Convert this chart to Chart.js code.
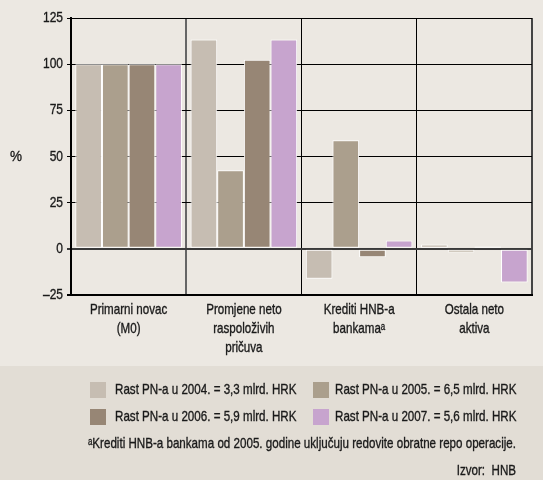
<!DOCTYPE html>
<html>
<head>
<meta charset="utf-8">
<script src="https://cdn.jsdelivr.net/npm/chart.js@4.4.1/dist/chart.umd.min.js"></script>
<style>
  body { margin: 0; background: #ece8e2; }
  #wrap { width: 543px; height: 480px; position: relative; }
</style>
</head>
<body>
<div id="wrap"><canvas id="myChart"></canvas></div>
<script>
// data
const categories = [
  ['Primarni novac', '(M0)'],
  ['Promjene neto', 'raspoloživih', 'pričuva'],
  ['Krediti HNB-a', 'bankamaᵃ'],
  ['Ostala neto', 'aktiva']
];
const seriesNames = [
  'Rast PN-a u 2004. = 3,3 mlrd. HRK',
  'Rast PN-a u 2005. = 6,5 mlrd. HRK',
  'Rast PN-a u 2006. = 5,9 mlrd. HRK',
  'Rast PN-a u 2007. = 5,6 mlrd. HRK'
];
const rast2004 = [100, 113.3, -16.2, 2.3];
const rast2005 = [100, 42.5, 58.8, -2.0];
const rast2006 = [100, 102.4, -4.5, 1.2];
const rast2007 = [100, 113.3, 4.5, -18.2];
const yTicks = [-25, 0, 25, 50, 75, 100, 125];
const footnote = 'ᵃKrediti HNB-a bankama od 2005. godine uključuju redovite obratne repo operacije.';
const source = 'Izvor:  HNB';

const colors = ['#c6bdb2', '#ab9f8d', '#978675', '#c7a4ce'];
const FONT = "'Liberation Sans', Arial, sans-serif";
const NARROW = 0.8; // the original uses a condensed face

// narrow text helper, with a touch of stroke for the heavier original
function narrowText(ctx, text, x, y, align, sx) {
  ctx.save();
  ctx.translate(x, y);
  ctx.scale(sx || NARROW, 1);
  ctx.textAlign = align;
  ctx.fillText(text, 0, 0);
  ctx.strokeStyle = ctx.fillStyle;
  ctx.lineWidth = 0.35;
  ctx.strokeText(text, 0, 0);
  ctx.restore();
}

// setup
const data = {
  labels: categories,
  datasets: [rast2004, rast2005, rast2006, rast2007].map((vals, i) => ({
    label: seriesNames[i],
    data: vals,
    backgroundColor: colors[i],
    borderColor: '#ffffff',
    borderWidth: 1,
    borderSkipped: false,
    categoryPercentage: 0.925,
    barPercentage: 1
  }))
};

// background, tick labels, y title, legend, notes
const decorations = {
  id: 'decorations',
  beforeDraw(chart) {
    const { ctx, width, height } = chart;
    ctx.save();
    ctx.fillStyle = '#ece8e2';
    ctx.fillRect(0, 0, width, height);
    ctx.fillStyle = '#e2ddd5';
    ctx.fillRect(0, 366, width, height - 366);
    ctx.restore();
  },
  afterDraw(chart) {
    const { ctx, scales: { x, y } } = chart;
    ctx.save();
    ctx.fillStyle = '#1a1a1a';
    ctx.textBaseline = 'middle';

    // y tick labels
    ctx.font = '15px ' + FONT;
    yTicks.forEach(v => {
      narrowText(ctx, String(v).replace('-', '–'), 63, y.getPixelForValue(v), 'right', 0.8);
    });
    narrowText(ctx, '%', 16, 157, 'center', 0.9);

    // x tick labels
    ctx.font = '14.5px ' + FONT;
    categories.forEach((lines, i) => {
      const cx = x.getPixelForTick(i);
      lines.forEach((line, j) => {
        narrowText(ctx, line, cx, 310 + j * 19, 'center');
      });
    });

    // legend
    const cols = [[90, 115], [313, 335]];
    const rows = [390, 417];
    seriesNames.forEach((name, i) => {
      const c = cols[i % 2];
      const ry = rows[Math.floor(i / 2)];
      ctx.fillStyle = colors[i];
      ctx.fillRect(c[0], ry - 8, 16, 16);
      ctx.fillStyle = '#1a1a1a';
      narrowText(ctx, name, c[1], ry, 'left');
    });

    narrowText(ctx, footnote, 516, 444, 'right');
    narrowText(ctx, source, 516, 471, 'right');
    ctx.restore();
  }
};

// config
const config = {
  type: 'bar',
  data,
  options: {
    responsive: true,
    maintainAspectRatio: false,
    animation: false,
    layout: { padding: { top: 18, right: 11, left: 0, bottom: 0 } },
    plugins: {
      legend: { display: false },
      tooltip: { enabled: false }
    },
    scales: {
      x: {
        afterFit(scale) { scale.height = 185; },
        border: { display: true, color: '#000', width: 2 },
        grid: {
          offset: true,
          drawTicks: false,
          color(ctx) {
            if (ctx.index === 0) return 'rgba(0,0,0,0)';
            if (ctx.index === 1) return '#666';
            if (ctx.index === undefined) return '#444';
            return '#000';
          },
          lineWidth(ctx) {
            if (ctx.index === 1 || ctx.index === undefined) return 2;
            return 1;
          }
        },
        ticks: { display: false }
      },
      y: {
        min: yTicks[0],
        max: yTicks[yTicks.length - 1],
        afterFit(scale) { scale.width = 71; },
        afterBuildTicks(scale) {
          scale.ticks = yTicks.map(v => ({ value: v }));
        },
        border: { display: true, color: '#000', width: 2 },
        grid: {
          tickLength: 4,
          color(ctx) {
            return ctx.tick && ctx.tick.value === 0 ? '#3a3a3a' : '#000';
          },
          lineWidth(ctx) {
            return ctx.tick && (ctx.tick.value === 0 || ctx.tick.value === -25) ? 2 : 1;
          }
        },
        ticks: { display: false }
      }
    }
  },
  plugins: [decorations]
};

// render
const myChart = new Chart(document.getElementById('myChart'), config);
</script>
</body>
</html>
